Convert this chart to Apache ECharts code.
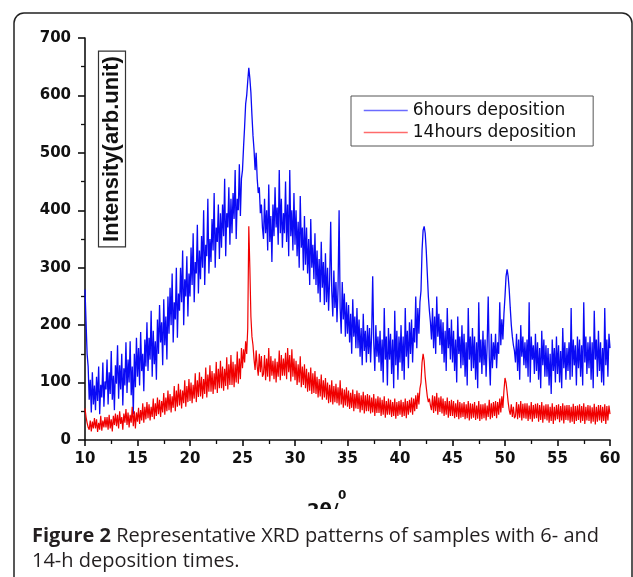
<!DOCTYPE html>
<html>
<head>
<meta charset="utf-8">
<script src="https://cdn.jsdelivr.net/npm/echarts@6/dist/echarts.min.js"></script>
<style>html,body{margin:0;padding:0;background:#fff;}#c{width:633px;height:577px;}</style>
</head>
<body>
<div id="c"></div>
<script>
// scan grid (2θ, degrees)
const twoThetaStart = 10;
const twoThetaStep = 0.1;
// 6 hours deposition (blue), one value per 0.1°, one row per degree
const intensity6h = [
  262,205,150,128,70,105,48,118,62,95,
  52,110,68,128,45,96,74,135,58,102,
  88,140,62,118,80,155,70,112,52,130,
  98,165,72,130,88,150,60,125,95,170,
  82,140,100,172,78,128,45,150,92,178,
  110,160,95,188,120,150,85,175,128,205,
  120,178,140,225,110,190,132,172,105,210,
  150,235,170,205,130,245,165,215,140,250,
  185,265,200,290,170,240,210,300,178,255,
  225,300,240,330,200,280,250,320,215,290,
  250,335,270,360,240,310,290,375,255,330,
  280,355,300,400,270,340,320,420,290,350,
  310,385,330,430,300,370,345,410,315,395,
  335,410,355,455,320,395,370,440,340,420,
  360,430,385,470,350,420,400,480,390,455,
  470,510,545,585,600,625,648,630,605,565,
  530,505,470,500,455,430,440,395,410,370,
  350,420,360,400,330,445,345,390,310,410,
  355,440,370,405,340,470,360,420,335,395,
  360,450,345,410,320,470,355,400,330,430,
  340,400,320,380,300,425,335,370,295,390,
  305,370,290,350,270,385,300,340,280,360,
  270,330,255,315,240,345,265,310,235,325,
  240,300,225,280,380,260,215,295,230,275,
  205,265,400,230,185,275,210,255,180,240,
  185,235,170,220,150,245,180,215,160,230,
  160,210,145,195,130,220,155,190,135,200,
  150,195,135,185,285,170,120,200,145,180,
  135,190,120,175,100,230,140,180,95,195,
  140,185,115,175,90,225,130,190,105,180,
  135,200,120,180,105,230,145,190,125,205,
  150,210,135,195,170,250,160,230,185,240,
  260,330,365,372,360,330,290,250,225,205,
  175,230,160,215,150,250,180,220,165,210,
  150,205,135,190,120,230,160,195,140,210,
  135,190,120,175,100,215,150,180,125,200,
  130,185,110,170,95,230,140,180,120,195,
  125,180,105,170,90,240,135,175,115,190,
  130,175,110,165,250,145,95,185,125,170,
  140,185,125,170,150,240,165,210,175,220,
  250,285,297,285,262,230,200,180,165,155,
  135,185,120,175,105,200,145,180,130,170,
  125,175,110,240,100,180,140,165,115,185,
  120,170,105,160,90,190,130,175,110,165,
  110,160,95,150,80,175,120,160,100,180,
  115,165,100,155,90,195,125,170,105,160,
  120,170,105,230,110,175,130,165,95,180,
  125,175,110,165,95,240,135,180,115,170,
  125,180,105,170,90,225,140,175,110,190,
  120,170,100,160,95,230,130,175,110,185,
  160
];
// 14 hours deposition (red)
const intensity14h = [
  55,40,30,22,18,34,15,32,20,38,
  20,36,14,30,18,42,16,34,22,40,
  22,40,18,44,20,36,15,42,26,46,
  24,44,20,50,28,40,18,46,30,54,
  26,48,22,44,30,58,24,50,20,48,
  32,56,28,52,34,64,30,58,36,66,
  38,62,34,58,40,72,36,64,42,74,
  45,70,40,68,48,82,44,74,50,86,
  52,80,48,76,56,94,50,86,58,98,
  60,88,55,86,64,104,58,94,66,106,
  68,100,64,96,72,116,66,104,75,118,
  76,110,72,106,80,126,74,114,84,130,
  84,120,80,116,88,136,82,124,90,138,
  90,128,86,124,94,144,88,132,96,148,
  96,136,92,132,100,154,98,142,106,160,
  125,158,135,172,150,195,372,300,215,180,
  165,140,122,156,128,112,150,118,146,110,
  115,148,104,142,110,160,102,146,112,138,
  106,142,100,136,110,156,104,148,112,142,
  112,152,106,160,118,148,102,158,110,142,
  104,138,96,132,100,146,92,128,96,132,
  90,124,84,118,86,126,80,116,82,120,
  80,110,74,106,76,114,70,104,74,108,
  70,100,64,96,66,104,62,94,66,98,
  64,92,60,104,62,90,56,88,60,92,
  58,86,54,82,56,88,50,80,55,86,
  54,82,48,78,52,84,46,78,50,80,
  50,78,46,74,48,80,42,72,47,76,
  47,74,42,70,44,76,39,68,44,72,
  44,70,40,66,42,72,37,66,42,68,
  44,70,40,66,42,72,38,68,44,70,
  48,74,44,72,50,78,54,82,62,90,
  100,135,150,138,110,92,76,66,72,60,
  52,78,47,76,50,82,44,74,49,76,
  46,72,42,68,44,74,39,68,42,70,
  42,68,38,64,40,70,36,66,39,64,
  40,66,36,62,38,68,34,64,37,63,
  39,66,35,60,37,68,33,62,36,62,
  38,64,34,60,40,70,36,64,39,66,
  42,68,38,66,44,72,48,76,56,86,
  108,100,84,66,52,44,62,40,58,38,
  42,66,36,62,39,68,34,63,38,64,
  37,64,33,60,36,66,32,61,37,63,
  38,64,32,61,35,66,30,60,36,62,
  34,62,30,58,33,64,28,58,34,61,
  36,62,31,59,34,64,29,60,35,61,
  34,61,30,58,32,63,28,59,33,60,
  35,62,30,59,33,64,28,58,34,61,
  33,60,29,57,32,63,27,58,32,61,
  34,61,30,58,33,62,28,59,34,60,
  45
];
const seriesNames = ['6hours deposition', '14hours deposition'];
const xTickMin = 10, xTickMax = 60, xTickStep = 5;
const yTickMin = 0, yTickMax = 700, yTickStep = 100;
const yAxisTitle = 'Intensity(arb.unit)';
const xAxisTitle = '2θ/';
const xAxisTitleSup = '0';
const captionBold = 'Figure 2';
const captionLine1 = ' Representative XRD patterns of samples with 6- and';
const captionLine2 = '14-h deposition times.';

function toPairs(arr) {
  return arr.map((v, i) => [Math.round((twoThetaStart + i * twoThetaStep) * 10) / 10, v]);
}

const capFont = '"Open Sans", "Noto Sans", sans-serif';
const capSize = 20;
const ctx = document.createElement('canvas').getContext('2d');
ctx.font = 'bold ' + capSize + 'px ' + capFont;
const wBold = ctx.measureText(captionBold).width;
ctx.font = capSize + 'px ' + capFont;
const wRest = ctx.measureText(captionLine1).width;
const capScale = 567 / (wBold + wRest);

const axisColor = '#111';
const tickFont = 'DejaVu Sans';

const chart = echarts.init(document.getElementById('c'), null, {renderer: 'canvas'});
chart.setOption({
  animation: false,
  backgroundColor: '#ffffff',
  grid: {left: 85, right: 23, top: 38, bottom: 137},
  legend: {
    show: true,
    orient: 'vertical',
    left: 351, top: 96,
    padding: [6, 17, 5, 12],
    itemWidth: 44, itemHeight: 17, itemGap: 5,
    borderColor: '#555', borderWidth: 1,
    textStyle: {fontFamily: 'DejaVu Sans', fontSize: 17, color: '#111'},
    data: [
      {name: seriesNames[0], itemStyle: {opacity: 0}, lineStyle: {color: '#6b6bff', width: 1.5, opacity: 1}},
      {name: seriesNames[1], itemStyle: {opacity: 0}, lineStyle: {color: '#ff6b6b', width: 1.5, opacity: 1}}
    ]
  },
  xAxis: {
    type: 'value', min: xTickMin, max: xTickMax, interval: xTickStep,
    axisLine: {onZero: false, lineStyle: {color: axisColor, width: 1.6}},
    axisTick: {length: 6, lineStyle: {color: axisColor, width: 1.6}},
    minorTick: {show: true, splitNumber: 2, length: 4, lineStyle: {color: axisColor, width: 1.3}},
    splitLine: {show: false},
    axisLabel: {margin: 12, fontFamily: tickFont, fontWeight: 'bold', fontSize: 15, color: '#111'}
  },
  yAxis: {
    type: 'value', min: yTickMin, max: yTickMax, interval: yTickStep,
    axisLine: {show: true, lineStyle: {color: axisColor, width: 1.6}},
    axisTick: {show: true, length: 7, lineStyle: {color: axisColor, width: 1.6}},
    minorTick: {show: true, splitNumber: 2, length: 4, lineStyle: {color: axisColor, width: 1.3}},
    splitLine: {show: false},
    axisLabel: {margin: 14, fontFamily: tickFont, fontWeight: 'bold', fontSize: 15, color: '#111'}
  },
  series: [
    {name: seriesNames[0], type: 'line', data: toPairs(intensity6h), symbol: 'none', showSymbol: false, lineStyle: {color: '#0a0af5', width: 1.3}, itemStyle: {color: '#0a0af5'}, z: 2},
    {name: seriesNames[1], type: 'line', data: toPairs(intensity14h), symbol: 'none', showSymbol: false, lineStyle: {color: '#f00000', width: 1.2}, itemStyle: {color: '#f00000'}, z: 3}
  ],
  graphic: [
    {type: 'rect', shape: {x: 14, y: 13, width: 618, height: 640, r: 10}, style: {fill: 'none', stroke: '#222', lineWidth: 1.5}, z: 10},
    {type: 'text', x: 112, y: 149, rotation: Math.PI / 2, z: 10,
      style: {text: yAxisTitle, font: 'bold 22px "Liberation Sans", Arial, sans-serif', fill: '#111', align: 'center', verticalAlign: 'middle',
        borderColor: '#333', borderWidth: 1.2, padding: [3, 5, 2, 5]}},
    {type: 'text', x: 307, y: 511, z: 10, style: {text: xAxisTitle, font: 'bold 18px "DejaVu Sans"', fill: '#111', align: 'left', verticalAlign: 'middle'}},
    {type: 'text', x: 338, y: 496, z: 10, style: {text: xAxisTitleSup, font: 'bold 12px "DejaVu Sans"', fill: '#111', align: 'left', verticalAlign: 'middle'}},
    {type: 'rect', shape: {x: 290, y: 509, width: 80, height: 15}, style: {fill: '#ffffff'}, z: 11},
    {type: 'group', x: 32, y: 536, scaleX: capScale, z: 12, children: [
      {type: 'text', x: 0, y: 0, style: {text: captionBold, font: 'bold ' + capSize + 'px ' + capFont, fill: '#231f20', align: 'left', verticalAlign: 'middle'}},
      {type: 'text', x: wBold, y: 0, style: {text: captionLine1, font: capSize + 'px ' + capFont, fill: '#231f20', align: 'left', verticalAlign: 'middle'}},
      {type: 'text', x: 0, y: 25, style: {text: captionLine2, font: capSize + 'px ' + capFont, fill: '#231f20', align: 'left', verticalAlign: 'middle'}}
    ]}
  ]
});
</script>
</body>
</html>
